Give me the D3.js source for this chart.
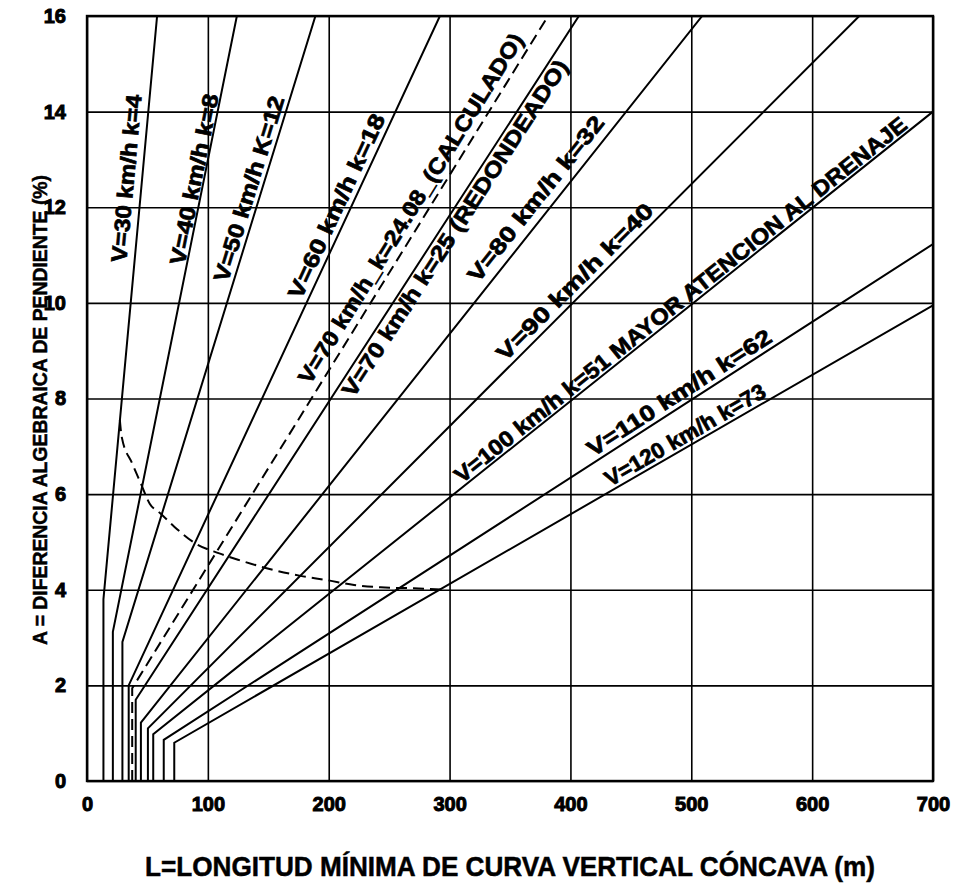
<!DOCTYPE html>
<html>
<head>
<meta charset="utf-8">
<script src="https://cdn.jsdelivr.net/npm/d3@7"></script>
<style>
    body { margin: 0; background: #fff; }
    text { font-family: "Liberation Sans Narrow", "Liberation Sans", Arial, sans-serif; font-weight: bold; fill: #000; }
</style>
</head>
<body>
<div id="chart"></div>
<script>
// axis ticks
const xTicks = [0, 100, 200, 300, 400, 500, 600, 700]
const yTicks = [0, 2, 4, 6, 8, 10, 12, 14, 16]

// one entry per curve: label, vertical part (L min up to the kink), end of the straight part
const curveLabels = [
    "V=30  km/h k=4",
    "V=40   km/h k=8",
    "V=50  km/h K=12",
    "V=60  km/h k=18",
    "V=70 km/h_k=24.08_(CALCULADO)",
    "V=70 km/h  k=25 (REDONDEADO)",
    "V=80  km/h  k=32",
    "V=90  km/h  k=40",
    "V=100 km/h k=51 MAYOR ATENCION AL DRENAJE",
    "V=110  km/h  k=62",
    "V=120 km/h k=73"
]
const lMin  = [13.6, 21.4, 29.3, 34.5, 37.4, 40.3, 44.6, 50.4, 54.8, 63.5, 72.2]
const aKink = [3.8, 3.12, 2.91, 2.0, 1.94, 1.7, 1.22, 1.1, 0.98, 0.86, 0.8]
const lEnd  = [58, 124, 189, 292, 381.5, 407, 509, 639, 700, 700, 700]
const aEnd  = [16, 16, 16, 16, 16, 16, 16, 16, 14.0, 11.23, 9.95]
const isDashed = [false, false, false, false, true, false, false, false, false, false, false]

// dashed envelope (drainage limit)
const envL = [27.2, 28.7, 37.4, 44.6, 51.9, 60.6, 72.2, 89.6, 109.5, 126, 148.7, 176.7, 199, 221, 243, 270.5, 295]
const envA = [7.55, 7.2, 6.64, 6.22, 5.8, 5.6, 5.32, 4.97, 4.76, 4.62, 4.45, 4.29, 4.2, 4.1, 4.05, 4.03, 4.0]

// label layout: A where the text starts, gap to the line (px), text length (px),
// side 1 = text over the line, -1 = text hanging under it
const labelLayout = [
    { a: 10.84, gap: 8, len: 168, side: 1 },
    { a: 10.77, gap: 2, len: 174, side: 1 },
    { a: 10.41, gap: 5, len: 193, side: 1 },
    { a: 10.05, gap: 6, len: 201, side: 1 },
    { a: 8.27, gap: 8, len: 407, side: 1 },
    { a: 8.0, gap: 3, len: 396, side: -1 },
    { a: 10.4, gap: 9, len: 205, side: 1 },
    { a: 8.76, gap: 6, len: 212, side: 1 },
    { a: 6.21, gap: 3, len: 572, side: 1 },
    { a: 6.77, gap: 5, len: 215, side: 1 },
    { a: 6.15, gap: 4, len: 182, side: 1 }
]
const capHeight = 16

const margin = { top: 16, right: 20, bottom: 108, left: 87 }
const width = 953 - margin.left - margin.right
const height = 889 - margin.top - margin.bottom

const x = d3.scaleLinear().domain([0, 700]).range([0, width])
const y = d3.scaleLinear().domain([0, 16]).range([height, 0])

const svg = d3.select("#chart").append("svg")
    .attr("width", 953)
    .attr("height", 889)

const g = svg.append("g")
    .attr("transform", "translate(" + margin.left + "," + margin.top + ")")

g.append("clipPath").attr("id", "plot")
    .append("rect").attr("width", width).attr("height", height)

// grid + tick labels
const xAxis = d3.axisBottom(x).tickValues(xTicks).tickSize(-height).tickPadding(16)
const yAxis = d3.axisLeft(y).tickValues(yTicks).tickSize(-width).tickPadding(21)

const gx = g.append("g").attr("class", "x axis")
    .attr("transform", "translate(0," + height + ")")
    .call(xAxis)
const gy = g.append("g").attr("class", "y axis").call(yAxis)

for (const ax of [gx, gy]) {
    ax.select(".domain").remove()
    ax.selectAll(".tick line").attr("stroke", "#000").attr("stroke-width", 1.6)
    ax.selectAll(".tick text")
        .style("font-family", "'Liberation Sans', Arial, sans-serif")
        .style("font-weight", "bold")
        .attr("fill", "#000")
        .attr("stroke", "#000")
        .attr("stroke-width", 1)
}
gx.selectAll(".tick text").style("font-size", "20px")
gy.selectAll(".tick text").style("font-size", "20px")

g.append("rect")
    .attr("width", width).attr("height", height)
    .attr("fill", "none").attr("stroke", "#000").attr("stroke-width", 2.4)

// curves
const line = d3.line().x(d => x(d[0])).y(d => y(d[1]))
const curves = g.append("g").attr("clip-path", "url(#plot)")

curveLabels.forEach((name, i) => {
    const pts = [[lMin[i], 0], [lMin[i], aKink[i]], [lEnd[i], aEnd[i]]]
    curves.append("path")
        .attr("d", line(pts))
        .attr("fill", "none")
        .attr("stroke", "#000")
        .attr("stroke-width", 2)
        .attr("stroke-dasharray", isDashed[i] ? "11,6" : null)
})

const env = envL.map((l, i) => [l, envA[i]])
curves.append("path")
    .attr("d", d3.line().x(d => x(d[0])).y(d => y(d[1])).curve(d3.curveMonotoneX)(env))
    .attr("fill", "none")
    .attr("stroke", "#000")
    .attr("stroke-width", 2)
    .attr("stroke-dasharray", "11,6")

// labels along the straight parts
curveLabels.forEach((name, i) => {
    const lay = labelLayout[i]
    const x1 = x(lMin[i]), y1 = y(aKink[i])
    const x2 = x(lEnd[i]), y2 = y(aEnd[i])
    const th = Math.atan2(y2 - y1, x2 - x1)
    const up = [Math.sin(th), -Math.cos(th)]
    const off = lay.side > 0 ? lay.gap : -(lay.gap + capHeight)
    // point on the line so that the baseline start lands at y(a)
    const yl = y(lay.a) - off * up[1]
    const t = (yl - y1) / (y2 - y1)
    const px = x1 + t * (x2 - x1) + off * up[0]
    const py = yl + off * up[1]
    g.append("text")
        .attr("transform", "translate(" + px + "," + py + ") rotate(" + (th * 180 / Math.PI) + ")")
        .attr("textLength", lay.len)
        .attr("lengthAdjust", "spacingAndGlyphs")
        .attr("stroke", "#000")
        .attr("stroke-width", 0.7)
        .style("font-size", "22px")
        .text(name)
})

// axis titles
svg.append("text")
    .attr("transform", "translate(47,410) rotate(-90)")
    .attr("text-anchor", "middle")
    .attr("textLength", 470)
    .attr("lengthAdjust", "spacingAndGlyphs")
    .attr("stroke", "#000")
    .attr("stroke-width", 0.5)
    .style("font-size", "21px")
    .text("A = DIFERENCIA ALGEBRAICA DE PENDIENTE (%)")

svg.append("text")
    .attr("x", 510)
    .attr("y", 876)
    .attr("text-anchor", "middle")
    .attr("textLength", 730)
    .attr("lengthAdjust", "spacingAndGlyphs")
    .attr("stroke", "#000")
    .attr("stroke-width", 0.5)
    .style("font-size", "28px")
    .text("L=LONGITUD MÍNIMA DE CURVA VERTICAL CÓNCAVA (m)")
</script>
</body>
</html>
